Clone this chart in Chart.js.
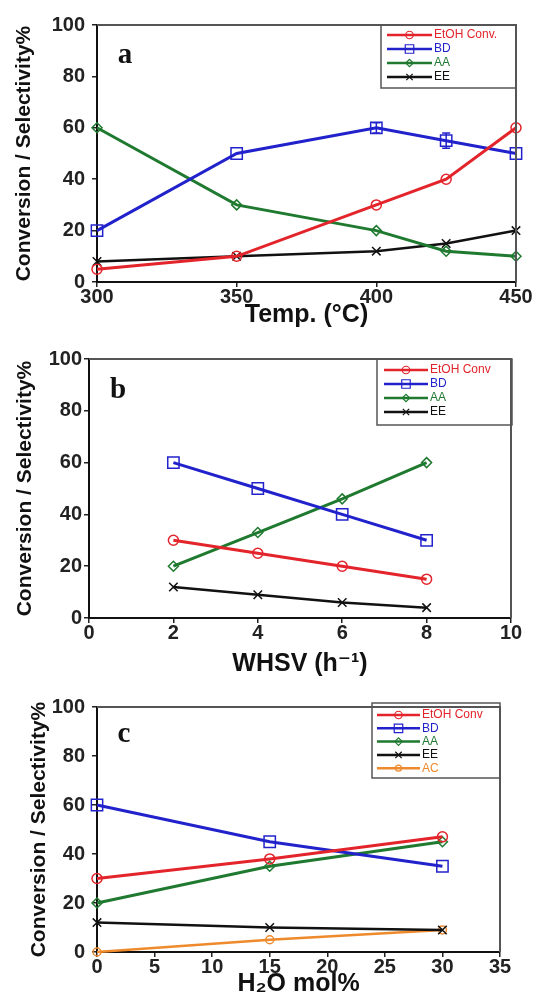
<!DOCTYPE html>
<html><head><meta charset="utf-8">
<script src="https://cdn.jsdelivr.net/npm/chart.js@4/dist/chart.umd.min.js"></script>
<style>
html,body{margin:0;padding:0;background:#fff;}
body{width:536px;height:1001px;position:relative;overflow:hidden;}
.p{position:absolute;left:0;width:536px;}
</style></head><body>
<div class="p" style="top:0;height:330px"><canvas id="ca"></canvas></div>
<div class="p" style="top:330px;height:360px"><canvas id="cb"></canvas></div>
<div class="p" style="top:690px;height:311px"><canvas id="cc"></canvas></div>
<script>
// ---------- data ----------
const yTitle = 'Conversion / Selectivity%';
const yTicks = [0, 20, 40, 60, 80, 100];

// Panel a: temperature
const tempX = [300, 350, 400, 425, 450];
const tempTicks = [300, 350, 400, 450];
const tempEtOH = [5, 10, 30, 40, 60];
const tempBD = [20, 50, 60, 55, 50];
const tempBDErr = [0, 0, 2, 3, 0];
const tempAA = [60, 30, 20, 12, 10];
const tempEE = [8, 10, 12, 15, 20];
const tempLabels = ['EtOH Conv.', 'BD', 'AA', 'EE'];

// Panel b: WHSV
const whsvX = [2, 4, 6, 8];
const whsvTicks = [0, 2, 4, 6, 8, 10];
const whsvEtOH = [30, 25, 20, 15];
const whsvBD = [60, 50, 40, 30];
const whsvAA = [20, 33, 46, 60];
const whsvEE = [12, 9, 6, 4];
const whsvLabels = ['EtOH Conv', 'BD', 'AA', 'EE'];

// Panel c: water content
const waterX = [0, 15, 30];
const waterTicks = [0, 5, 10, 15, 20, 25, 30, 35];
const waterEtOH = [30, 38, 47];
const waterBD = [60, 45, 35];
const waterAA = [20, 35, 45];
const waterEE = [12, 10, 9];
const waterAC = [0, 5, 9];
const waterLabels = ['EtOH Conv', 'BD', 'AA', 'EE', 'AC'];

// ---------- styles ----------
const RED = '#e3242b', BLUE = '#2222cc', GREEN = '#1f7a30', BLACK = '#111111', ORANGE = '#ee8a2c';
const styleRed = {color: RED, marker: 'circle', r: 5, lw: 3};
const styleBlue = {color: BLUE, marker: 'rect', r: 8, lw: 3};
const styleGreen = {color: GREEN, marker: 'rectRot', r: 5, lw: 3};
const styleBlack = {color: BLACK, marker: 'crossRot', r: 6, lw: 2.5};
const styleOrange = {color: ORANGE, marker: 'circle', r: 4, lw: 2.5};

const FONT = "'Liberation Sans', Arial, 'DejaVu Sans', sans-serif";

const framePlugin = {
  id: 'frame',
  afterDraw(chart) {
    const {ctx, chartArea: a} = chart;
    ctx.save();
    ctx.strokeStyle = '#555';
    ctx.lineWidth = 2;
    ctx.beginPath();
    ctx.moveTo(a.left, a.top); ctx.lineTo(a.right, a.top); ctx.lineTo(a.right, a.bottom);
    ctx.stroke();
    ctx.restore();
  }
};

const errorPlugin = {
  id: 'errbars',
  afterDatasetsDraw(chart) {
    const ctx = chart.ctx, ys = chart.scales.y;
    chart.data.datasets.forEach((ds, i) => {
      if (!ds.errors) return;
      const meta = chart.getDatasetMeta(i);
      ctx.save();
      ctx.strokeStyle = ds.borderColor; ctx.lineWidth = 1.5;
      ds.errors.forEach((e, j) => {
        if (!e) return;
        const x = meta.data[j].x, v = ds.data[j].y;
        const y1 = ys.getPixelForValue(v + e), y2 = ys.getPixelForValue(v - e);
        ctx.beginPath();
        ctx.moveTo(x, y1); ctx.lineTo(x, y2);
        ctx.moveTo(x - 4, y1); ctx.lineTo(x + 4, y1);
        ctx.moveTo(x - 4, y2); ctx.lineTo(x + 4, y2);
        ctx.stroke();
      });
      ctx.restore();
    });
  }
};

const boxLegendPlugin = {
  id: 'boxLegend',
  afterDraw(chart, args, o) {
    if (!o || !o.box) return;
    const ctx = chart.ctx;
    ctx.save();
    ctx.strokeStyle = '#555'; ctx.lineWidth = 1.5;
    ctx.strokeRect(o.box[0], o.box[1], o.box[2] - o.box[0], o.box[3] - o.box[1]);
    ctx.font = '12px ' + FONT;
    ctx.textBaseline = 'middle';
    chart.data.datasets.forEach((ds, i) => {
      const y = o.y0 + i * o.dy;
      ctx.strokeStyle = ds.borderColor; ctx.lineWidth = 2.5;
      ctx.beginPath(); ctx.moveTo(o.lx1, y); ctx.lineTo(o.lx2, y); ctx.stroke();
      ctx.lineWidth = 1.2;
      ctx.fillStyle = 'rgba(0,0,0,0)';
      Chart.helpers.drawPoint(ctx, {pointStyle: ds.pointStyle, radius: Math.max(3, ds.pointRadius * 0.75), borderWidth: 1.2, rotation: 0}, (o.lx1 + o.lx2) / 2, y);
      ctx.fillStyle = ds.borderColor;
      ctx.fillText(ds.label, o.tx, y);
    });
    ctx.restore();
  }
};

const panelLabelPlugin = {
  id: 'panelLabel',
  afterDraw(chart, args, o) {
    if (!o || !o.text) return;
    const ctx = chart.ctx;
    ctx.save();
    ctx.font = "bold 29px 'Liberation Serif', 'Times New Roman', serif";
    ctx.fillStyle = '#111';
    ctx.textAlign = 'center'; ctx.textBaseline = 'alphabetic';
    ctx.fillText(o.text, o.x, o.y);
    ctx.restore();
  }
};

function build(id, cfg) {
  const datasets = cfg.series.map((s, i) => ({
    label: cfg.labels[i],
    data: cfg.x.map((x, j) => ({x: x, y: s.values[j]})),
    borderColor: s.style.color,
    backgroundColor: 'rgba(0,0,0,0)',
    borderWidth: s.style.lw,
    pointStyle: s.style.marker,
    pointRadius: s.style.r,
    pointBorderWidth: 1.5,
    pointBorderColor: s.style.color,
    pointBackgroundColor: 'rgba(0,0,0,0)',
    tension: 0,
    clip: false,
    errors: s.errors
  }));
  const tickList = cfg.xTicks;
  return new Chart(document.getElementById(id), {
    type: 'line',
    data: {datasets},
    plugins: [framePlugin, errorPlugin, boxLegendPlugin, panelLabelPlugin],
    options: {
      responsive: true, maintainAspectRatio: false, animation: false,
      layout: {padding: cfg.pad},
      plugins: {
        legend: {display: false}, tooltip: {enabled: false},
        boxLegend: cfg.legend,
        panelLabel: cfg.panel
      },
      scales: {
        x: {
          type: 'linear', min: tickList[0], max: tickList[tickList.length - 1],
          afterBuildTicks: s => { s.ticks = tickList.map(v => ({value: v})); },
          afterFit: s => { s.height = cfg.xh; },
          border: {color: '#111', width: 2},
          grid: {drawOnChartArea: false, drawTicks: true, tickLength: 5, color: '#222', lineWidth: 1.5},
          ticks: {color: '#222', padding: 0, maxRotation: 0, autoSkip: false,
                  font: {family: FONT, size: 20, weight: 'bold', lineHeight: 1}},
          title: {display: true, text: cfg.xTitle, color: '#111', padding: {top: 0, bottom: 0},
                  font: {family: FONT, size: 25, weight: 'bold', lineHeight: 1.2}}
        },
        y: {
          type: 'linear', min: 0, max: 100,
          afterBuildTicks: s => { s.ticks = yTicks.map(v => ({value: v})); },
          afterFit: s => { s.width = cfg.yw; },
          border: {color: '#111', width: 2},
          grid: {drawOnChartArea: false, drawTicks: true, tickLength: 5, color: '#222', lineWidth: 1.5},
          ticks: {color: '#222', padding: cfg.ypad,
                  font: {family: FONT, size: 20, weight: 'bold', lineHeight: 1}},
          title: {display: true, text: yTitle, color: '#111', padding: {top: cfg.ytp, bottom: 0},
                  font: {family: FONT, size: 21, weight: 'bold', lineHeight: 1.2}}
        }
      }
    }
  });
}

// Panel a: canvas 330 high, area 97..516 x 25..282
build('ca', {
  x: tempX, xTicks: tempTicks, labels: tempLabels, xTitle: 'Temp. (°C)',
  series: [
    {values: tempEtOH, style: styleRed},
    {values: tempBD, style: styleBlue, errors: tempBDErr},
    {values: tempAA, style: styleGreen},
    {values: tempEE, style: styleBlack}
  ],
  pad: {left: 0, top: 25, right: 20, bottom: 0}, xh: 48, yw: 97, ypad: 7, ytp: 12,
  legend: {box: [381, 25, 516, 88], y0: 35, dy: 14, lx1: 387, lx2: 432, tx: 434},
  panel: {text: 'a', x: 125, y: 63}
});

// Panel b: canvas 360 high (offset 330), area 89..511 x 29..288
build('cb', {
  x: whsvX, xTicks: whsvTicks, labels: whsvLabels, xTitle: 'WHSV (h⁻¹)',
  series: [
    {values: whsvEtOH, style: styleRed},
    {values: whsvBD, style: styleBlue},
    {values: whsvAA, style: styleGreen},
    {values: whsvEE, style: styleBlack}
  ],
  pad: {left: 0, top: 29, right: 25, bottom: 11}, xh: 61, yw: 89, ypad: 2, ytp: 13,
  legend: {box: [377, 29, 512, 95], y0: 40, dy: 14, lx1: 384, lx2: 428, tx: 430},
  panel: {text: 'b', x: 118, y: 68}
});

// Panel c: canvas 311 high (offset 690), area 97..500 x 13..262
build('cc', {
  x: waterX, xTicks: waterTicks, labels: waterLabels, xTitle: 'H₂O mol%',
  series: [
    {values: waterEtOH, style: styleRed},
    {values: waterBD, style: styleBlue},
    {values: waterAA, style: styleGreen},
    {values: waterEE, style: styleBlack},
    {values: waterAC, style: styleOrange}
  ],
  pad: {left: 0, top: 13, right: 36, bottom: 2}, xh: 47, yw: 97, ypad: 7, ytp: 27,
  legend: {box: [372, 13, 500, 88], y0: 25, dy: 13.3, lx1: 377, lx2: 420, tx: 422},
  panel: {text: 'c', x: 124, y: 52}
});
</script>
</body></html>
